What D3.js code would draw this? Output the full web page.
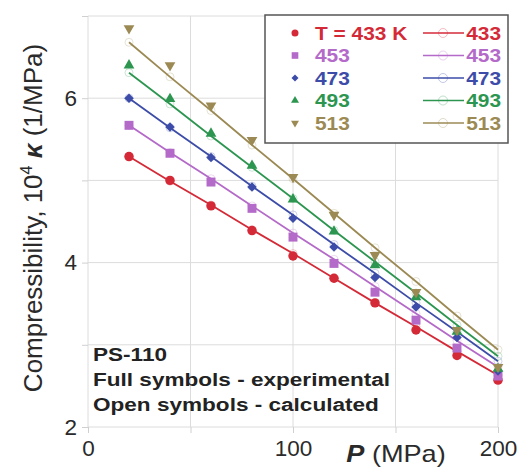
<!DOCTYPE html>
<html>
<head>
<meta charset="utf-8">
<script src="https://cdn.jsdelivr.net/npm/d3@7"></script>
<style>
  body { margin: 0; background: #fff; }
  svg { font-family: "Liberation Sans", Arial, sans-serif; }
</style>
</head>
<body>
<div id="chart"></div>
<script>
const width = 524
const height = 468

// pressure (MPa) of the measured / calculated points
const pressures = [20, 40, 60, 80, 100, 120, 140, 160, 180, 200]
const temperatures = [433, 453, 473, 493, 513]

// experimental 10^4 kappa (1/MPa)
const exp433 = [5.29, 5.00, 4.69, 4.39, 4.08, 3.81, 3.51, 3.18, 2.87, 2.57]
const exp453 = [5.67, 5.33, 4.98, 4.66, 4.31, 3.99, 3.64, 3.30, 2.96, 2.62]
const exp473 = [6.00, 5.65, 5.28, 4.92, 4.54, 4.19, 3.82, 3.46, 3.09, 2.68]
const exp493 = [6.40, 5.99, 5.57, 5.18, 4.77, 4.38, 3.97, 3.58, 3.16, 2.71]
const exp513 = [6.85, 6.40, 5.91, 5.49, 5.04, 4.58, 4.09, 3.64, 3.18, 2.73]

// calculated 10^4 kappa (1/MPa)
const calc433 = [5.29, 4.99, 4.70, 4.40, 4.11, 3.81, 3.51, 3.22, 2.92, 2.63]
const calc453 = [5.67, 5.34, 5.02, 4.69, 4.36, 4.04, 3.71, 3.38, 3.05, 2.73]
const calc473 = [6.00, 5.64, 5.29, 4.93, 4.58, 4.22, 3.87, 3.51, 3.16, 2.80]
const calc493 = [6.31, 5.93, 5.54, 5.16, 4.78, 4.39, 4.01, 3.63, 3.24, 2.86]
const calc513 = [6.68, 6.26, 5.85, 5.43, 5.02, 4.60, 4.18, 3.77, 3.35, 2.94]

const xTicks = [0, 50, 100, 150, 200]
const yTicks = [2, 3, 4, 5, 6, 7]
const notes = ['PS-110', 'Full symbols - experimental', 'Open symbols - calculated']

const expSeries = [exp433, exp453, exp473, exp493, exp513]
const calcSeries = [calc433, calc453, calc473, calc493, calc513]
const colors = ['#d42a38', '#b46ac8', '#3c4ca8', '#2c9650', '#9c8a54']
// diamond = square turned 45 degrees, 513 K = triangle pointing down
const symbols = [d3.symbolCircle, d3.symbolSquare, d3.symbolSquare, d3.symbolTriangle, d3.symbolTriangle]
const symbolRotate = [0, 0, 45, 0, 180]
const symbolSizes = [70, 80, 45, 50, 50]

const svg = d3.select('#chart').append('svg').attr('width', width).attr('height', height)

const x = d3.scaleLinear().domain([0, 200]).range([88, 498])
const y = d3.scaleLinear().domain([2, 7]).range([427, 16])

// grid
const grid = svg.append('g').attr('class', 'grid').attr('stroke', '#dcdcdc').attr('stroke-width', 1)
grid.selectAll('.gx').data(xTicks).enter().append('line')
  .attr('x1', d => x(d)).attr('x2', d => x(d))
  .attr('y1', y(7)).attr('y2', y(2))
grid.selectAll('.gy').data(yTicks).enter().append('line')
  .attr('x1', x(0)).attr('x2', x(200))
  .attr('y1', d => y(d)).attr('y2', d => y(d))

// axes
const xAxis = d3.axisBottom(x).tickValues(xTicks).tickSize(6).tickPadding(7)
  .tickFormat(d => d % 100 === 0 ? d : '')
const yAxis = d3.axisLeft(y).tickValues(yTicks).tickSize(6).tickPadding(5)
  .tickFormat(d => d % 2 === 0 ? d : '')

svg.append('g').attr('transform', `translate(0, ${y(2)})`).call(xAxis)
svg.append('g').attr('transform', `translate(${x(0)}, 0)`).call(yAxis)
svg.selectAll('.domain').remove()
svg.selectAll('.tick line').attr('stroke', '#d0d0d0')
svg.selectAll('.tick text')
  .attr('font-family', '"Liberation Sans", Arial, sans-serif')
  .attr('font-size', 22.5)
  .attr('fill', '#2a2a2a')

// calculated lines
const line = d3.line().x((d, i) => x(pressures[i])).y(d => y(d))
const calcGroup = svg.append('g')
calcSeries.forEach((s, k) => {
  calcGroup.append('path').datum(s)
    .attr('d', line)
    .attr('fill', 'none')
    .attr('stroke', colors[k])
    .attr('stroke-width', 1.8)
  calcGroup.selectAll(`.oc${k}`).data(s).enter().append('circle')
    .attr('cx', (d, i) => x(pressures[i]))
    .attr('cy', d => y(d))
    .attr('r', 4)
    .attr('fill', 'none')
    .attr('stroke', colors[k])
    .attr('stroke-opacity', 0.25)
})

// experimental points
const expGroup = svg.append('g')
expSeries.forEach((s, k) => {
  expGroup.selectAll(`.ep${k}`).data(s).enter().append('path')
    .attr('d', d3.symbol().type(symbols[k]).size(symbolSizes[k]))
    .attr('transform', (d, i) => `translate(${x(pressures[i])}, ${y(d)}) rotate(${symbolRotate[k]})`)
    .attr('fill', colors[k])
})

// legend (text is a bit wide in the original, hence the x scale)
const legend = svg.append('g').attr('class', 'legend')
legend.append('rect')
  .attr('x', 265).attr('y', 15).attr('width', 243).attr('height', 128)
  .attr('fill', '#fff').attr('stroke', '#555').attr('stroke-width', 1.5)
temperatures.forEach((t, k) => {
  const ry = 33 + k * 22.5
  legend.append('path')
    .attr('d', d3.symbol().type(symbols[k]).size(symbolSizes[k] * 0.55))
    .attr('transform', `translate(295, ${ry}) rotate(${symbolRotate[k]})`)
    .attr('fill', colors[k])
  legend.append('text')
    .attr('transform', `translate(315, ${ry + 6.5}) scale(1.16, 1)`)
    .attr('font-size', 18).attr('font-weight', 'bold')
    .attr('fill', colors[k])
    .text(k === 0 ? `T = ${t} K` : t)
  legend.append('line')
    .attr('x1', 423).attr('x2', 464).attr('y1', ry).attr('y2', ry)
    .attr('stroke', colors[k]).attr('stroke-width', 1.5)
  legend.append('circle')
    .attr('cx', 443).attr('cy', ry).attr('r', 4.5)
    .attr('fill', 'none').attr('stroke', colors[k]).attr('stroke-opacity', 0.3)
  legend.append('text')
    .attr('transform', `translate(501, ${ry + 6.5}) scale(1.16, 1)`)
    .attr('text-anchor', 'end')
    .attr('font-size', 18).attr('font-weight', 'bold')
    .attr('fill', colors[k])
    .text(t)
})

// notes
svg.append('g').selectAll('text').data(notes).enter().append('text')
  .attr('transform', (d, i) => `translate(93, ${361 + i * 25}) scale(1.22, 1)`)
  .attr('font-size', 18.5).attr('font-weight', 'bold').attr('fill', '#222')
  .text(d => d)

// axis titles
const xTitle = svg.append('text')
  .attr('transform', 'translate(396, 462) scale(1.18, 1)')
  .attr('text-anchor', 'middle')
  .attr('font-size', 23).attr('fill', '#2a2a2a')
xTitle.append('tspan').attr('font-weight', 'bold').attr('font-style', 'italic').text('P')
xTitle.append('tspan').text(' (MPa)')

const yTitle = svg.append('text')
  .attr('transform', 'translate(42, 218) rotate(-90)')
  .attr('text-anchor', 'middle')
  .attr('font-size', 26).attr('fill', '#2a2a2a')
yTitle.append('tspan').text('Compressibility, 10')
yTitle.append('tspan').attr('font-size', 16).attr('dy', -10).text('4')
yTitle.append('tspan').attr('dy', 10).text(' ')
yTitle.append('tspan').attr('font-weight', 'bold').attr('font-style', 'italic').text('κ')
yTitle.append('tspan').text(' (1/MPa)')
</script>
</body>
</html>
